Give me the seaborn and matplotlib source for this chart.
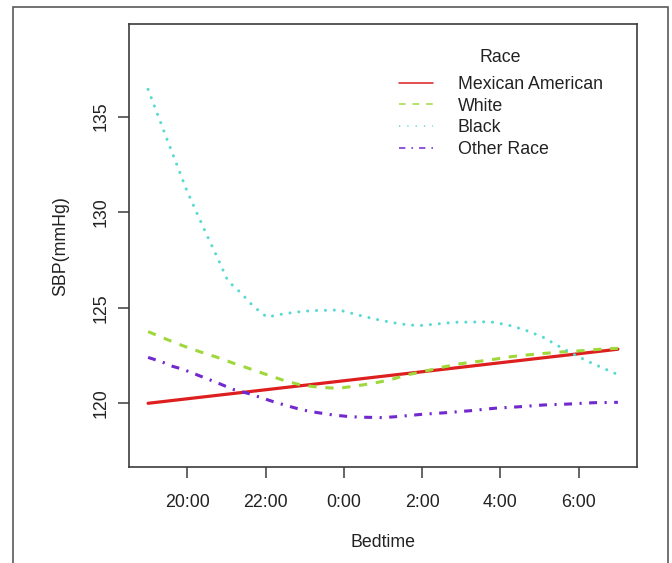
import matplotlib
matplotlib.use("Agg")
import matplotlib.pyplot as plt
from matplotlib.lines import Line2D
from matplotlib.patches import Rectangle
import numpy as np
import pandas as pd
import seaborn as sns

# ---- data: bedtime in hours (24 = 0:00, 30 = 6:00) and systolic BP ----
mex_hours = [19.0, 31.0]
mex_sbp = [120.0, 122.83]

white_hours = [19.0, 19.47, 19.89, 20.32, 20.76, 21.19, 21.64, 22.06, 22.49, 22.94,
               23.38, 23.85, 24.32, 24.75, 25.17, 25.6, 26.05, 26.49, 26.94, 27.39,
               27.83, 28.28, 28.73, 29.17, 29.64, 30.07, 30.54, 31.0]
white_sbp = [123.75, 123.35, 123.01, 122.70, 122.41, 122.09, 121.78, 121.48, 121.18, 120.94,
             120.84, 120.78, 120.91, 121.05, 121.22, 121.48, 121.67, 121.88, 122.06, 122.18,
             122.30, 122.44, 122.54, 122.62, 122.70, 122.75, 122.83, 122.88]

black_hours = [19.0, 19.49, 19.99, 20.46, 20.75, 21.04, 21.38, 21.68, 22.04, 22.28,
               22.73, 23.17, 23.64, 23.88, 24.11, 24.54, 25.0, 25.45, 25.9, 26.37,
               26.82, 27.28, 27.73, 28.19, 28.62, 29.06, 29.47, 29.85, 30.28, 31.0]
black_sbp = [136.43, 133.78, 131.13, 128.98, 127.71, 126.40, 125.76, 125.09, 124.50, 124.62,
             124.76, 124.85, 124.87, 124.88, 124.76, 124.53, 124.32, 124.15, 124.06, 124.15,
             124.24, 124.25, 124.27, 124.10, 123.84, 123.49, 123.01, 122.58, 122.15, 121.50]

other_hours = [19.0, 19.34, 19.6, 19.89, 20.76, 21.17, 21.6, 21.94, 22.28, 22.87,
               23.17, 23.72, 24.15, 24.49, 25.0, 25.34, 25.98, 26.62, 27.22, 27.85,
               28.49, 29.09, 29.73, 30.37, 31.0]
other_sbp = [122.40, 122.18, 121.95, 121.78, 121.08, 120.73, 120.49, 120.26, 120.03, 119.69,
             119.56, 119.39, 119.30, 119.27, 119.25, 119.30, 119.42, 119.51, 119.61, 119.74,
             119.82, 119.91, 119.96, 120.03, 120.05]

races = ["Mexican American", "White", "Black", "Other Race"]
colors = ["#DD1F1F", "#9FD83A", "#56D9D2", "#7128CF"]

tick_hours = [20, 22, 24, 26, 28, 30]
tick_labels = ["20:00", "22:00", "0:00", "2:00", "4:00", "6:00"]
y_ticks = [120, 125, 130, 135]

series = {
    "Mexican American": (mex_hours, mex_sbp),
    "White": (white_hours, white_sbp),
    "Black": (black_hours, black_sbp),
    "Other Race": (other_hours, other_sbp),
}

# ---- styling ----
sns.set_theme(style="white")
plt.rcParams["font.family"] = ["Liberation Sans", "DejaVu Sans"]
text_color = "#222222"
axis_color = "#3c3c3c"
fs = 12.8

fig = plt.figure(figsize=(6.72, 5.63), dpi=100)
ax = fig.add_axes([129.3 / 672, 1 - 467.3 / 563, (636.7 - 129.3) / 672, (467.3 - 24) / 563])

line_styles = {
    "Mexican American": dict(lw=2.3, dashes=None, cap="round"),
    "White": dict(lw=2.2, dashes=(2.7, 2.85), cap="butt"),
    "Black": dict(lw=2.2, dashes=(0.01, 2.9), cap="round"),
    "Other Race": dict(lw=2.2, dashes=(2.6, 2.45, 0.7, 2.45), cap="butt"),
}

for i, (race, color) in enumerate(zip(races, colors)):
    hrs, sbp = series[race]
    df = pd.DataFrame({"Bedtime": hrs, "SBP": sbp})
    n_before = len(ax.lines)
    sns.lineplot(data=df, x="Bedtime", y="SBP", ax=ax, color=color,
                 estimator=None, sort=True, legend=False, zorder=3 + i)
    ln = ax.lines[n_before]
    st = line_styles[race]
    ln.set_linewidth(st["lw"])
    if st["dashes"] is not None:
        ln.set_dashes(st["dashes"])
    ln.set_dash_capstyle(st["cap"])
    ln.set_solid_capstyle("round")

ax.set_xlim(18.52, 31.48)
ax.set_ylim(116.65, 139.85)
ax.set_xticks(tick_hours)
ax.set_xticklabels(tick_labels)
ax.set_yticks(y_ticks)
ax.set_yticklabels([str(v) for v in y_ticks], rotation=90, va="center")

ax.tick_params(axis="both", which="major", direction="out", length=8, width=1.1,
               color=axis_color, labelcolor=text_color, labelsize=fs,
               bottom=True, left=True)
ax.tick_params(axis="x", pad=11)
ax.tick_params(axis="y", pad=6)

for sp in ax.spines.values():
    sp.set_color(axis_color)
    sp.set_linewidth(1.2)
    sp.set_visible(True)

ax.set_xlabel("Bedtime", fontsize=fs, color=text_color, labelpad=17)
ax.set_ylabel("SBP(mmHg)", fontsize=fs, color=text_color, labelpad=17)
ax.grid(False)

# legend with thin sample lines
handles = []
for race, color in zip(races, colors):
    st = line_styles[race]
    h = Line2D([0], [0], color=color, lw=1.1)
    if st["dashes"] is not None:
        h.set_dashes(tuple(d * 1.6 if d > 0.05 else 0.8 for d in st["dashes"]))
    handles.append(h)

leg = ax.legend(handles, races, frameon=False, fontsize=fs,
                loc="upper left",
                bbox_to_anchor=(399.3 / 672, 1 - 76 / 563), bbox_transform=fig.transFigure,
                handlelength=1.9, handletextpad=1.4, labelspacing=0.26,
                borderaxespad=0, borderpad=0)
for t in leg.get_texts():
    t.set_color(text_color)
fig.text(500 / 672, 1 - 58 / 563, "Race", ha="center", va="center",
         fontsize=fs, color=text_color)

# outer frame around the figure
fig.patches.append(Rectangle((13 / 672, -0.02), (668 - 13) / 672, 1 - 7 / 563 + 0.02,
                             transform=fig.transFigure, fill=False,
                             edgecolor="#5a5a5a", linewidth=1.2))

fig.savefig("out.png", dpi=100, facecolor="white")
